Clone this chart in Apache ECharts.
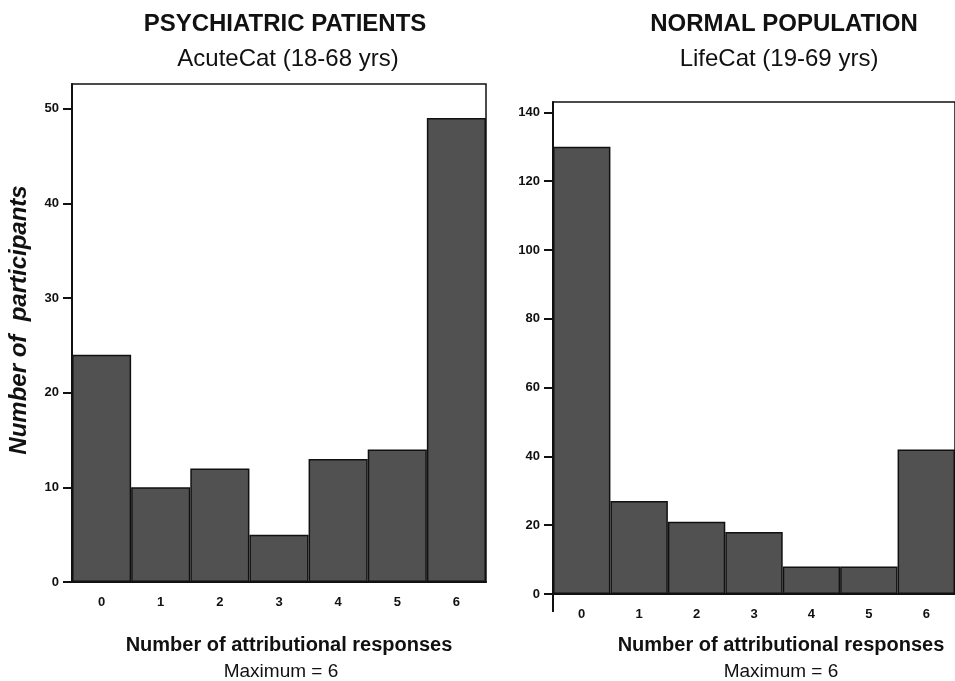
<!DOCTYPE html>
<html>
<head>
<meta charset="utf-8">
<title>Attributional responses</title>
<script src="https://cdn.jsdelivr.net/npm/echarts@6/dist/echarts.min.js"></script>
<style>
  html, body { margin: 0; padding: 0; background: #fff; }
  #chart { width: 955px; height: 681px; }
</style>
</head>
<body>
<div id="chart"></div>
<script>
// Response counts 0..6 (maximum = 6)
const categories = ['0', '1', '2', '3', '4', '5', '6'];

// Psychiatric patients, AcuteCat (18-68 yrs)
const patientCounts = [24, 10, 12, 5, 13, 14, 49];
const patientTicks = [0, 10, 20, 30, 40, 50];

// Normal population, LifeCat (19-69 yrs)
const normalCounts = [130, 27, 21, 18, 8, 8, 42];
const normalTicks = [0, 20, 40, 60, 80, 100, 120, 140];

const FONT = '"Liberation Sans", Arial, sans-serif';
const INK = '#111';
const BAR = '#515151';

function xAxisFor(gridIndex) {
  return {
    type: 'category',
    gridIndex: gridIndex,
    data: categories,
    boundaryGap: true,
    axisLine: { lineStyle: { color: INK, width: 2 } },
    axisTick: { alignWithLabel: true, length: 9, lineStyle: { color: INK, width: 2 } },
    axisLabel: { color: INK, fontFamily: FONT, fontSize: 13, fontWeight: 'bold', margin: 14 }
  };
}

function yAxisFor(gridIndex, max, ticks) {
  return {
    type: 'value',
    gridIndex: gridIndex,
    min: 0,
    max: max,
    splitLine: { show: false },
    axisLine: { show: true, lineStyle: { color: INK, width: 2 } },
    axisTick: { show: true, length: 9, customValues: ticks, lineStyle: { color: INK, width: 2 } },
    axisLabel: { color: INK, fontFamily: FONT, fontSize: 13, fontWeight: 'bold', margin: 13, customValues: ticks }
  };
}

function barSeries(index, data) {
  return {
    type: 'bar',
    xAxisIndex: index,
    yAxisIndex: index,
    data: data,
    barWidth: '100%',
    barCategoryGap: 0,
    itemStyle: { color: BAR, borderColor: INK, borderWidth: 1.5 },
    silent: true
  };
}

const chart = echarts.init(document.getElementById('chart'), null, { renderer: 'canvas' });

const titleText = { fontFamily: FONT, color: INK };

chart.setOption({
  animation: false,
  backgroundColor: '#fff',
  title: [
    { text: 'PSYCHIATRIC PATIENTS', left: 280, top: 7, textAlign: 'center',
      textStyle: Object.assign({ fontSize: 24, fontWeight: 'bold' }, titleText) },
    { text: 'AcuteCat (18-68 yrs)', left: 283, top: 42, textAlign: 'center',
      textStyle: Object.assign({ fontSize: 24, fontWeight: 'normal' }, titleText) },
    { text: 'NORMAL POPULATION', left: 779, top: 7, textAlign: 'center',
      textStyle: Object.assign({ fontSize: 24, fontWeight: 'bold' }, titleText) },
    { text: 'LifeCat (19-69 yrs)', left: 774, top: 42, textAlign: 'center',
      textStyle: Object.assign({ fontSize: 24, fontWeight: 'normal' }, titleText) },
    { text: 'Number of attributional responses', left: 284, top: 630, textAlign: 'center',
      textStyle: Object.assign({ fontSize: 20, fontWeight: 'bold' }, titleText) },
    { text: 'Maximum = 6', left: 276, top: 657, textAlign: 'center',
      textStyle: Object.assign({ fontSize: 19, fontWeight: 'normal' }, titleText) },
    { text: 'Number of attributional responses', left: 776, top: 630, textAlign: 'center',
      textStyle: Object.assign({ fontSize: 20, fontWeight: 'bold' }, titleText) },
    { text: 'Maximum = 6', left: 776, top: 657, textAlign: 'center',
      textStyle: Object.assign({ fontSize: 19, fontWeight: 'normal' }, titleText) }
  ],
  grid: [
    { left: 72, top: 84, width: 414, height: 498, show: true,
      borderColor: INK, borderWidth: 1.5, backgroundColor: 'transparent' },
    { left: 553, top: 102, width: 405, height: 492, show: true,
      borderColor: INK, borderWidth: 1.5, backgroundColor: 'transparent' }
  ],
  xAxis: [xAxisFor(0), xAxisFor(1)],
  yAxis: [
    Object.assign(yAxisFor(0, 52.6, patientTicks), {
      name: 'Number of  participants',
      nameLocation: 'middle',
      nameGap: 41,
      nameRotate: 90,
      nameTextStyle: { fontFamily: FONT, fontSize: 24, fontWeight: 'bold', fontStyle: 'italic', color: INK,
        padding: [0, 0, 0, 26] }
    }),
    yAxisFor(1, 143, normalTicks)
  ],
  series: [barSeries(0, patientCounts), barSeries(1, normalCounts)]
});

// The right panel's vertical axis runs a little past the baseline.
const x0 = chart.convertToPixel({ xAxisIndex: 1 }, 0);
const x1 = chart.convertToPixel({ xAxisIndex: 1 }, 1);
const axisX = x0 - (x1 - x0) / 2;
const baseY = chart.convertToPixel({ yAxisIndex: 1 }, 0);
chart.setOption({
  graphic: [{
    type: 'line',
    shape: { x1: axisX, y1: baseY, x2: axisX, y2: baseY + 18 },
    style: { stroke: INK, lineWidth: 2 },
    silent: true
  }]
});
</script>
</body>
</html>
